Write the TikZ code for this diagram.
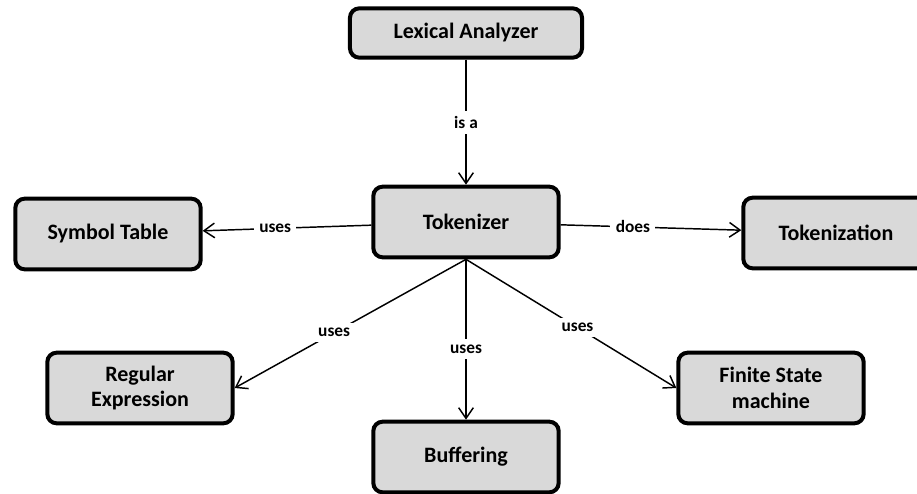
\documentclass[tikz,border=0pt]{standalone}
\usepackage{fontspec}
\setmainfont{Carlito}
\usepackage{tikz}
\usetikzlibrary{positioning,arrows.meta}
\definecolor{boxgray}{RGB}{217,217,217}

\begin{document}
\begin{tikzpicture}[node distance=4cm,on grid,>={Straight Barb[length=8pt,width=11pt]}]
        \tikzstyle{block}=[draw=black,line width=3pt,fill=boxgray,rounded corners=7pt,
            minimum width=139pt,minimum height=53pt,align=center,font=\fontsize{16.5}{19}\selectfont\bfseries]
        \tikzstyle{lbl}=[fill=white,anchor=center,inner sep=4pt,font=\fontsize{13}{15}\selectfont\bfseries]
        \useasboundingbox (-349.5pt,24.75pt) rectangle (338.25pt,-345pt);
        \node[block,minimum width=174pt,minimum height=37pt] (lex) {Lexical Analyzer};
        \node[block] (tok) [below=141.75pt of lex] {Tokenizer};
        \node[block] (sym) [below left=9pt and 268.5pt of tok] {Symbol Table};
        \node[block] (tkz) [below right=8.25pt and 277.5pt of tok] {Tokenization};
        \node[block] (re) [below left=124.5pt and 244.5pt of tok] {Regular\\Expression};
        \node[block] (fsm) [below right=124.5pt and 228.75pt of tok] {Finite State\\machine};
        \node[block] (buf) [below=176.25pt of tok] {Buffering};
        \path[->,line width=1.1pt]
        (lex) edge node[lbl] {is a} (tok)
        (tok) edge node[lbl,pos=0.57] {uses} (sym)
        (tok) edge node[lbl,pos=0.4] {does} (tkz)
        (tok.south) edge node[lbl,pos=0.57] {uses} (re.east)
        (tok.south) edge node[lbl,pos=0.56] {uses} (buf.north)
        (tok.south) edge node[lbl,pos=0.53] {uses} (fsm.west);
    \end{tikzpicture}
\end{document}
